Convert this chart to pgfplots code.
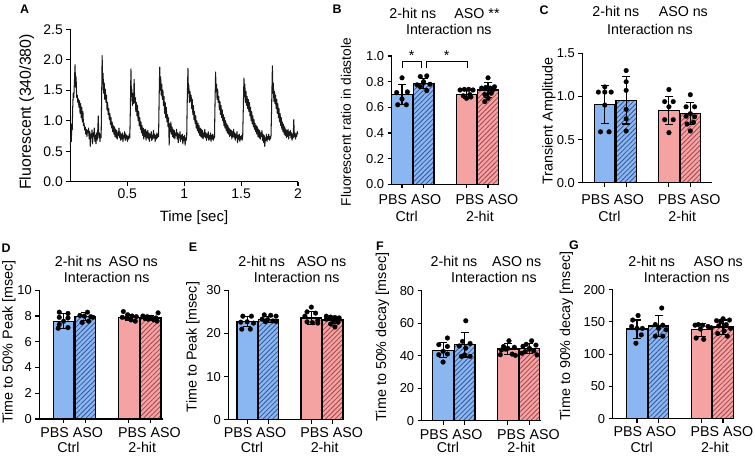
\documentclass[border=0pt]{standalone}
\usepackage{fontspec}
\setmainfont{Liberation Sans}
\usepackage{pgfplots}
\pgfplotsset{compat=1.18}
\usetikzlibrary{patterns.meta}

\definecolor{cblue}{HTML}{8AB6F2}
\definecolor{hblue}{HTML}{34589A}
\definecolor{cred}{HTML}{F4A2A2}
\definecolor{hred}{HTML}{A5464D}

\newcommand\atickfont{\fontsize{14}{16}\selectfont}
\newcommand\tickfont{\fontsize{13}{15}\selectfont}
\newcommand\catfont{\fontsize{14.3}{16}\selectfont}
\newcommand\titfont{\fontsize{14.3}{16}\selectfont}
\newcommand\labfont{\fontsize{14.4}{16}\selectfont}

\pgfplotsset{
  panel/.style={scale only axis, anchor=south west, overlay,
    axis lines=left, axis line style={-, black, line width=1.2bp},
    tick align=outside, major tick length=4bp,
    tick style={black, line width=1.1bp},
    clip=false, /pgf/number format/assume math mode=true,
    tick label style={font=\tickfont, black}, ymin=0},
  barpanel/.style={panel, xtick={1,2,4,5}, xticklabels={,,,}},
  onedec/.style={yticklabel style={/pgf/number format/fixed,
    /pgf/number format/fixed zerofill, /pgf/number format/precision=1}},
  pbar/.style={ybar, bar width=0.96, bar shift=0pt, draw=black, line width=1.3bp},
  bluebar/.style={pbar, fill=cblue},
  redbar/.style={pbar, fill=cred},
  bluehatch/.style={pbar, fill=cblue,
    postaction={pattern={Lines[angle=45,distance=3.4bp,line width=0.8bp]}, pattern color=hblue}},
  redhatch/.style={pbar, fill=cred,
    postaction={pattern={Lines[angle=45,distance=3.4bp,line width=0.8bp]}, pattern color=hred}},
  errbar/.style={draw=none, forget plot, error bars/.cd, y dir=both, y explicit,
    error bar style={draw=black, line width=1.1bp, solid},
    error mark options={draw=black, rotate=90, mark size=4bp, line width=1.1bp}},
  dots/.style={only marks, mark=*, mark size=2.4bp, black,
    mark options={fill=black, draw=black, line width=0.2bp}},
}

\tikzset{catnode/.style={anchor=base, font=\catfont, inner sep=0pt},
  titnode/.style={anchor=base, font=\titfont, inner sep=0pt},
  ylab/.style={rotate=90, anchor=center, font=\labfont, inner sep=0pt},
  letter/.style={anchor=center, font=\fontsize{12.5}{14}\selectfont\bfseries, inner sep=0pt}}

% group labels under the four bars; #1, #2 = drop of the two label lines
\newcommand\grouplabels[2]{%
  \node[catnode] at ([yshift=-#1bp]axis cs:1.37,0) {PBS ASO};
  \node[catnode] at ([yshift=-#1bp]axis cs:4.95,0) {PBS ASO};
  \node[catnode] at ([yshift=-#2bp]axis cs:1.22,0) {Ctrl};
  \node[catnode] at ([yshift=-#2bp]axis cs:4.62,0) {2-hit};}

\begin{document}
\begin{tikzpicture}
\path[use as bounding box] (0bp,0bp) rectangle (755bp,456bp);

% ---------------- A: calcium transient trace
\begin{axis}[panel, at={(70.4bp,274.3bp)}, width=227.6bp, height=152.4bp,
  xmin=0, xmax=2, ymax=2.5, xtick={0.5,1,1.5,2},
  ytick={0,0.5,1,1.5,2,2.5}, onedec, tick label style={font=\atickfont}]
\addplot[black!90, line width=1.05bp, line join=round] table {
t v
0.000 0.60
0.004 0.78
0.008 0.66
0.012 0.95
0.016 0.85
0.020 1.20
0.025 1.45
0.030 1.38
0.035 1.62
0.041 1.92
0.045 1.55
0.050 1.72
0.055 1.38
0.060 1.42
0.065 1.30
0.070 1.36
0.075 1.22
0.080 1.33
0.085 1.12
0.090 1.28
0.095 1.05
0.100 1.22
0.105 0.98
0.110 1.15
0.115 0.92
0.120 0.96
0.125 0.85
0.130 0.90
0.135 0.78
0.140 0.86
0.145 0.74
0.150 0.84
0.155 0.80
0.160 0.88
0.165 0.70
0.170 0.82
0.175 0.58
0.180 0.78
0.185 0.72
0.190 0.85
0.195 0.62
0.200 0.80
0.205 0.74
0.210 0.88
0.215 0.66
0.220 0.76
0.225 0.62
0.230 0.80
0.235 0.68
0.240 0.82
0.245 1.08
0.250 0.72
0.255 0.80
0.260 0.66
0.265 0.78
0.270 0.72
0.274 1.30
0.279 2.07
0.283 1.60
0.287 1.78
0.292 1.45
0.297 1.62
0.302 1.35
0.307 1.52
0.312 1.30
0.317 1.42
0.322 1.18
0.327 1.30
0.332 1.10
0.337 1.20
0.342 1.02
0.347 1.12
0.352 0.94
0.357 1.05
0.362 0.88
0.367 0.98
0.372 0.82
0.377 0.92
0.382 0.78
0.387 0.90
0.392 0.74
0.397 0.86
0.402 0.72
0.407 0.84
0.412 0.70
0.417 0.80
0.422 0.76
0.427 0.88
0.432 0.72
0.437 0.82
0.442 0.68
0.447 0.78
0.452 0.70
0.457 0.80
0.462 0.66
0.467 0.76
0.472 0.72
0.477 0.82
0.482 0.68
0.487 0.78
0.492 0.70
0.497 0.76
0.502 0.66
0.507 0.74
0.512 0.70
0.517 0.78
0.522 0.72
0.527 1.20
0.532 1.85
0.536 1.40
0.540 1.52
0.545 1.25
0.550 1.45
0.555 1.28
0.560 1.68
0.565 1.30
0.570 1.38
0.575 1.15
0.580 1.30
0.585 1.08
0.590 1.25
0.595 1.00
0.600 1.15
0.605 0.92
0.610 1.05
0.615 0.86
0.620 0.98
0.625 0.80
0.630 0.92
0.635 0.76
0.640 0.88
0.645 0.70
0.650 0.85
0.655 0.74
0.660 0.86
0.665 0.68
0.670 0.82
0.675 0.72
0.680 0.84
0.685 0.70
0.690 0.80
0.695 0.66
0.700 0.78
0.705 0.72
0.710 0.82
0.715 0.68
0.720 0.76
0.725 0.70
0.730 0.84
0.735 0.72
0.740 0.78
0.745 0.66
0.750 0.76
0.755 0.70
0.760 0.80
0.765 0.72
0.770 0.78
0.775 0.74
0.780 1.40
0.785 1.88
0.789 1.50
0.793 1.72
0.798 1.42
0.803 1.60
0.808 1.35
0.813 1.50
0.818 1.25
0.823 1.40
0.828 1.12
0.833 1.30
0.838 1.05
0.843 1.22
0.848 0.98
0.853 1.10
0.858 0.90
0.863 1.05
0.868 0.60
0.873 0.95
0.878 0.82
0.883 0.98
0.888 0.78
0.893 0.90
0.898 0.74
0.903 0.86
0.908 0.72
0.913 0.84
0.918 0.70
0.923 0.80
0.928 0.76
0.933 0.86
0.938 0.70
0.943 0.80
0.948 0.64
0.953 0.78
0.958 0.72
0.963 0.82
0.968 0.66
0.973 0.76
0.978 0.70
0.983 0.78
0.988 0.62
0.993 0.74
0.998 0.68
1.003 0.76
1.008 0.60
1.013 0.72
1.018 0.68
1.022 0.74
1.027 1.35
1.033 1.86
1.037 1.45
1.041 1.58
1.046 1.30
1.051 1.48
1.056 1.32
1.061 1.42
1.066 1.20
1.071 1.35
1.076 1.10
1.081 1.25
1.086 1.02
1.091 1.15
1.096 0.95
1.101 1.08
1.106 0.88
1.111 1.00
1.116 0.84
1.121 0.96
1.126 0.80
1.131 0.92
1.136 0.76
1.141 0.88
1.146 0.74
1.151 0.86
1.156 0.72
1.161 0.84
1.166 0.70
1.171 0.80
1.176 0.74
1.181 0.86
1.186 0.72
1.191 0.80
1.196 0.68
1.201 0.78
1.206 0.72
1.211 0.82
1.216 0.68
1.221 0.76
1.226 0.70
1.231 0.80
1.236 0.66
1.241 0.76
1.246 0.70
1.251 0.78
1.256 0.68
1.261 0.74
1.266 0.72
1.271 1.30
1.276 1.80
1.280 1.48
1.284 1.60
1.289 1.35
1.294 1.52
1.299 1.30
1.304 1.40
1.309 1.18
1.314 1.32
1.319 1.10
1.324 1.25
1.329 1.05
1.334 1.18
1.339 1.00
1.344 1.10
1.349 0.92
1.354 1.05
1.359 0.88
1.364 1.00
1.369 0.84
1.374 0.95
1.379 0.80
1.384 0.92
1.389 0.78
1.394 0.88
1.399 0.74
1.404 0.86
1.409 0.76
1.414 0.84
1.419 0.70
1.424 0.82
1.429 0.74
1.434 0.86
1.439 0.72
1.444 0.80
1.449 0.68
1.454 0.78
1.459 0.72
1.464 0.82
1.469 0.64
1.474 0.76
1.479 0.70
1.484 0.78
1.489 0.66
1.494 0.74
1.499 0.70
1.504 0.76
1.509 0.68
1.514 0.74
1.520 1.25
1.525 1.70
1.529 1.40
1.533 1.60
1.538 1.30
1.543 1.48
1.548 1.25
1.553 1.40
1.558 1.20
1.563 1.35
1.568 1.15
1.573 1.30
1.578 1.08
1.583 1.22
1.588 1.00
1.593 1.15
1.598 0.95
1.603 1.08
1.608 0.90
1.613 1.02
1.618 0.86
1.623 0.96
1.628 0.82
1.633 0.92
1.638 0.78
1.643 0.90
1.648 0.74
1.653 0.86
1.658 0.72
1.663 0.84
1.668 0.70
1.673 0.80
1.678 0.74
1.683 0.84
1.688 0.68
1.693 0.78
1.698 0.64
1.703 0.76
1.708 0.58
1.713 0.72
1.718 0.68
1.723 0.78
1.728 0.66
1.733 0.74
1.738 0.70
1.743 0.78
1.748 0.68
1.753 0.74
1.758 0.70
1.763 0.76
1.769 1.30
1.775 1.90
1.779 1.45
1.783 1.62
1.788 1.32
1.793 1.48
1.798 1.28
1.803 1.42
1.808 1.20
1.813 1.35
1.818 1.12
1.823 1.28
1.828 1.05
1.833 1.20
1.838 0.98
1.843 1.12
1.848 0.92
1.853 1.05
1.858 0.86
1.863 0.98
1.868 0.82
1.873 0.94
1.878 0.78
1.883 0.90
1.888 0.76
1.893 0.86
1.898 0.72
1.903 0.84
1.908 0.74
1.913 0.86
1.918 0.70
1.923 0.82
1.928 0.76
1.933 0.84
1.938 0.72
1.943 0.80
1.948 0.68
1.953 0.78
1.958 0.72
1.963 1.02
1.968 0.74
1.973 0.80
1.978 0.70
1.983 0.78
1.988 0.74
1.993 0.82
1.998 0.78
};
\end{axis}

% ---------------- B: diastolic ratio
\begin{axis}[barpanel, at={(391.7bp,271.7bp)}, width=107.3bp, height=128.3bp,
  xmin=0.52, xmax=5.51, ymax=1, ytick={0,0.2,0.4,0.6,0.8,1}, onedec]
\addplot[bluebar] coordinates {(1,0.700)};
\addplot[bluehatch] coordinates {(2,0.785)};
\addplot[redbar] coordinates {(4,0.700)};
\addplot[redhatch] coordinates {(5,0.735)};
\addplot[errbar] coordinates {(1,0.700) +- (0,0.075) (2,0.785) +- (0,0.040)
  (4,0.700) +- (0,0.030) (5,0.735) +- (0,0.060)};
\addplot[dots] coordinates {(1,0.83) (0.75,0.715) (1.25,0.72) (1,0.665) (0.8,0.62) (1.2,0.62)};
\addplot[dots] coordinates {(1.85,0.84) (2.15,0.845) (1.7,0.775) (2,0.79) (2.3,0.78)
  (1.85,0.76) (2.15,0.73) (2,0.80)};
\addplot[dots] coordinates {(3.7,0.735) (3.9,0.74) (4.1,0.74) (4.3,0.735) (3.85,0.69)
  (4.15,0.70) (4,0.67) (4.2,0.68)};
\addplot[dots] coordinates {(5,0.83) (4.7,0.75) (4.9,0.755) (5.1,0.75) (5.3,0.76)
  (4.85,0.70) (5.15,0.71) (5,0.67) (4.85,0.645) (5.2,0.73)};
\draw[black, line width=1.2bp] (axis cs:1.03,0.904) -- (axis cs:1.03,0.955)
  -- (axis cs:1.92,0.955) -- (axis cs:1.92,0.904);
\draw[black, line width=1.2bp] (axis cs:2.12,0.904) -- (axis cs:2.12,0.955)
  -- (axis cs:4.04,0.955) -- (axis cs:4.04,0.904);
\node[titnode] at (axis cs:1.45,0.966) {*};
\node[titnode] at (axis cs:3.08,0.966) {*};
\grouplabels{20}{37.5}
\end{axis}

% ---------------- C: transient amplitude
\begin{axis}[barpanel, at={(582.3bp,273.3bp)}, width=129.4bp, height=129.4bp,
  xmin=-0.05, xmax=6, ymax=1.5, ytick={0,0.5,1,1.5}, onedec]
\addplot[bluebar] coordinates {(1,0.905)};
\addplot[bluehatch] coordinates {(2,0.955)};
\addplot[redbar] coordinates {(4,0.835)};
\addplot[redhatch] coordinates {(5,0.800)};
\addplot[errbar] coordinates {(1,0.905) +- (0,0.22) (2,0.955) +- (0,0.275)
  (4,0.835) +- (0,0.165) (5,0.800) +- (0,0.13)};
\addplot[dots] coordinates {(1,1.11) (0.7,1.05) (1,1.05) (1.3,1.05) (1,0.90) (0.8,0.59) (1.2,0.59)};
\addplot[dots] coordinates {(2,1.30) (2,1.17) (2,1.07) (2,0.85) (2,0.74) (2,0.60)};
\addplot[dots] coordinates {(4,1.08) (3.8,0.94) (4.2,0.94) (4,0.88) (3.8,0.73) (4.2,0.73) (4,0.58)};
\addplot[dots] coordinates {(5,1.02) (4.8,0.88) (5.2,0.88) (5,0.80) (4.8,0.77) (5.2,0.765)
  (4.85,0.68) (5.15,0.70) (5,0.60)};
\grouplabels{21.5}{38.5}
\end{axis}

% ---------------- D: time to 50% peak
\begin{axis}[barpanel, at={(39.3bp,37bp)}, width=124bp, height=128.7bp,
  xmin=-0.12, xmax=5.59, ymax=10, ytick={0,2,4,6,8,10}]
\addplot[bluebar] coordinates {(1,7.6)};
\addplot[bluehatch] coordinates {(2,7.95)};
\addplot[redbar] coordinates {(4,7.9)};
\addplot[redhatch] coordinates {(5,7.85)};
\addplot[errbar] coordinates {(1,7.6) +- (0,0.6) (2,7.95) +- (0,0.3)
  (4,7.9) +- (0,0.25) (5,7.85) +- (0,0.2)};
\addplot[dots] coordinates {(0.8,8.3) (1.2,8.2) (0.8,7.9) (1.2,7.85) (1,7.6) (0.8,7.35)
  (0.75,7.05) (1.2,7.1)};
\addplot[dots] coordinates {(2.1,8.3) (1.75,8.05) (1.95,8.0) (2.25,7.95) (2.35,7.9)
  (1.85,7.5) (2.15,7.6)};
\addplot[dots] coordinates {(3.75,8.35) (3.95,8.1) (4.15,8.0) (4.35,7.95) (3.7,7.9)
  (3.9,7.85) (4.1,7.7) (4.3,7.6)};
\addplot[dots] coordinates {(5.35,8.25) (4.65,8.0) (4.85,7.95) (5.05,7.9) (5.25,7.85)
  (4.75,7.8) (4.95,7.8) (5.15,7.7) (5.3,7.6) (4.9,7.75)};
\grouplabels{18}{33.5}
\end{axis}

% ---------------- E: time to peak
\begin{axis}[barpanel, at={(228.3bp,36.3bp)}, width=116bp, height=129.4bp,
  xmin=0.12, xmax=5.54, ymax=30, ytick={0,10,20,30}]
\addplot[bluebar] coordinates {(1,22.8)};
\addplot[bluehatch] coordinates {(2,23.2)};
\addplot[redbar] coordinates {(4,23.6)};
\addplot[redhatch] coordinates {(5,23.1)};
\addplot[errbar] coordinates {(1,22.8) +- (0,1.2) (2,23.2) +- (0,0.7)
  (4,23.6) +- (0,1.5) (5,23.1) +- (0,0.8)};
\addplot[dots] coordinates {(0.8,24.0) (1.2,24.0) (1.0,22.7) (1.3,22.4) (0.75,21.0)
  (1.15,21.0) (0.7,22.6)};
\addplot[dots] coordinates {(1.8,24.3) (2.1,24.2) (2.35,24.0) (1.7,23.3) (1.95,23.2)
  (2.2,22.9) (2.35,22.8) (1.85,22.7)};
\addplot[dots] coordinates {(4.0,26.1) (3.8,25.0) (4.2,24.7) (3.7,24.0) (4.3,23.0)
  (3.8,22.7) (4.05,22.5) (4.3,22.4)};
\addplot[dots] coordinates {(4.7,24.0) (4.9,23.8) (5.1,23.7) (5.3,23.6) (4.8,23.5)
  (5.05,23.0) (5.25,22.6) (4.9,22.2) (5.1,21.5) (4.7,23.3)};
\grouplabels{18}{32.5}
\end{axis}

% ---------------- F: time to 50% decay
\begin{axis}[barpanel, at={(421.7bp,35.3bp)}, width=119bp, height=130bp,
  xmin=0.01, xmax=5.52, ymax=80, ytick={0,20,40,60,80}]
\addplot[bluebar] coordinates {(1,43.4)};
\addplot[bluehatch] coordinates {(2,46.8)};
\addplot[redbar] coordinates {(4,44.1)};
\addplot[redhatch] coordinates {(5,44.5)};
\addplot[errbar] coordinates {(1,43.4) +- (0,4.5) (2,46.8) +- (0,7.6)
  (4,44.1) +- (0,3.5) (5,44.5) +- (0,3.0)};
\addplot[dots] coordinates {(1.2,50.9) (0.8,46.8) (1.2,45.7) (1.0,42.7) (0.8,40.6)
  (1.2,41.0) (1.0,36.1)};
\addplot[dots] coordinates {(2.05,61.5) (1.9,48.8) (2.25,47.5) (1.75,46.0) (2.05,44.7)
  (1.85,39.6) (2.25,39.6) (2.0,40.5)};
\addplot[dots] coordinates {(4.05,49.2) (3.8,45.7) (4.3,45.2) (4.0,44.5) (3.7,43.5)
  (4.2,41.0) (3.65,40.6) (4.35,40.2) (3.9,44.0)};
\addplot[dots] coordinates {(5.1,49.2) (4.85,47.0) (5.3,46.5) (4.7,45.8) (5.0,44.5)
  (5.2,43.0) (4.8,42.5) (4.65,41.5) (5.35,40.5) (5.0,44.0)};
\grouplabels{18.5}{32}
\end{axis}

% ---------------- G: time to 90% decay
\begin{axis}[barpanel, at={(612.7bp,37.3bp)}, width=121.3bp, height=129bp,
  xmin=-0.13, xmax=5.51, ymax=200, ytick={0,50,100,150,200}]
\addplot[bluebar] coordinates {(1,139)};
\addplot[bluehatch] coordinates {(2,143.7)};
\addplot[redbar] coordinates {(4,138)};
\addplot[redhatch] coordinates {(5,142)};
\addplot[errbar] coordinates {(1,139) +- (0,14) (2,143.7) +- (0,16)
  (4,138) +- (0,10) (5,142) +- (0,11)};
\addplot[dots] coordinates {(1.05,160) (0.8,153) (1.25,140) (0.75,143) (1.0,140)
  (1.2,130) (0.95,117)};
\addplot[dots] coordinates {(2.15,171.6) (1.85,146) (2.2,145) (2.0,140) (2.35,138)
  (1.85,128) (2.2,128)};
\addplot[dots] coordinates {(3.7,145) (3.85,146) (4.05,145) (4.3,143) (4.45,141)
  (3.95,139) (3.75,125) (4.1,123)};
\addplot[dots] coordinates {(5.0,155) (5.3,153) (4.7,152) (4.9,150) (5.15,146)
  (4.8,144) (5.35,140) (5.05,136) (4.75,132) (5.2,128)};
\grouplabels{18}{33.5}
\end{axis}

% ---------------- axis titles
\node[ylab, font=\fontsize{16}{18}\selectfont] at (26.7bp,344bp) {Fluorescent (340/380)};
\node[anchor=center, font=\fontsize{15}{17}\selectfont, inner sep=0pt] at (194bp,238bp) {Time [sec]};
\node[ylab, font=\fontsize{13.8}{16}\selectfont] at (346bp,334bp) {Fluorescent ratio in diastole};
\node[ylab] at (549bp,335bp) {Transient Amplitude};
\node[ylab] at (9bp,114bp) {Time to 50\% Peak [msec]};
\node[ylab] at (193bp,109bp) {Time to Peak [msec]};
\node[ylab] at (382.5bp,119bp) {Time to 50\% decay [msec]};
\node[ylab] at (566.5bp,120bp) {Time to 90\% decay [msec]};

% ---------------- statistics headers
\node[titnode] at (412.8bp,437.7bp) {2-hit ns};
\node[titnode] at (477bp,437.7bp) {ASO **};
\node[titnode] at (448.8bp,421bp) {Interaction ns};
\node[titnode] at (615.8bp,439.3bp) {2-hit ns};
\node[titnode] at (683.3bp,439.3bp) {ASO ns};
\node[titnode] at (650bp,421bp) {Interaction ns};
\node[titnode] at (78.3bp,189.7bp) {2-hit ns};
\node[titnode] at (133.3bp,189.7bp) {ASO ns};
\node[titnode] at (106.7bp,173bp) {Interaction ns};
\node[titnode] at (261.7bp,189.7bp) {2-hit ns};
\node[titnode] at (321.7bp,189.7bp) {ASO ns};
\node[titnode] at (296.7bp,173bp) {Interaction ns};
\node[titnode] at (454bp,189.7bp) {2-hit ns};
\node[titnode] at (516.7bp,189.7bp) {ASO ns};
\node[titnode] at (494bp,173bp) {Interaction ns};
\node[titnode] at (651.7bp,189.7bp) {2-hit ns};
\node[titnode] at (718.3bp,189.7bp) {ASO ns};
\node[titnode] at (686.7bp,173bp) {Interaction ns};

% ---------------- panel letters
\node[letter] at (24.5bp,447bp) {A};
\node[letter] at (337bp,447bp) {B};
\node[letter] at (544bp,446bp) {C};
\node[letter] at (6bp,208bp) {D};
\node[letter] at (193bp,209bp) {E};
\node[letter] at (380bp,210bp) {F};
\node[letter] at (574bp,211bp) {G};
\end{tikzpicture}
\end{document}
